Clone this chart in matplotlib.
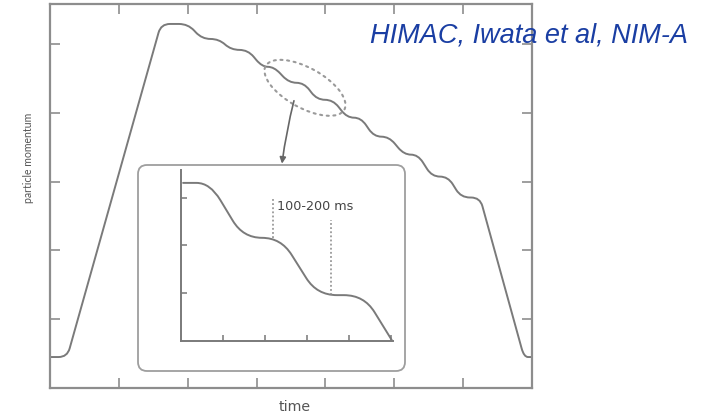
import numpy as np
import matplotlib
matplotlib.use("Agg")
import matplotlib.pyplot as plt
from matplotlib import font_manager
from matplotlib.path import Path
from matplotlib.patches import PathPatch, Ellipse, FancyBboxPatch, FancyArrowPatch
from matplotlib.transforms import ScaledTranslation

# Synchrotron cycle: corner points of the momentum profile (ramp up, staircase down, ramp down)
cycle_time = [0.0, 0.25, 1.612, 2.004, 2.207, 2.454, 2.629, 2.875, 3.079, 3.253,
              3.471, 3.689, 3.877, 4.110, 4.313, 4.516, 4.705, 4.923, 5.141, 5.344,
              5.547, 5.780, 5.969, 6.245, 6.884, 7.0]
cycle_momentum = [0.45, 0.45, 5.29, 5.29, 5.072, 5.072, 4.913, 4.913, 4.667, 4.667,
                  4.435, 4.435, 4.188, 4.188, 3.928, 3.928, 3.652, 3.652, 3.391, 3.391,
                  3.072, 3.072, 2.768, 2.768, 0.45, 0.45]
main_ticks_x = [1, 2, 3, 4, 5, 6]
main_ticks_y = [1, 2, 3, 4, 5]

# Close-up of two flat-tops
inset_time = [0.05, 0.69, 1.48, 2.38, 3.24, 4.36, 5.02]
inset_momentum = [3.31, 3.31, 2.16, 2.16, 0.96, 0.96, 0.02]
inset_ticks_x = [1, 2, 3, 4, 5]
inset_ticks_y = [1, 2, 3]
flat_marker_x = [2.19, 3.57]
flat_marker_top = [3.02, 2.54]
flat_marker_bottom = [2.16, 0.96]

ylabel_text = "particle momentum"
xlabel_text = "time"
interval_text = "100-200 ms"
source_text = "HIMAC, Iwata et al, NIM-A"

GREY_AX = "#8d8d8d"
GREY_LINE = "#7a7a7a"


def rounded_path(ax, xs, ys, radius_px):
    """Polyline through the given points with quadratic-rounded corners."""
    pts = ax.transData.transform(np.column_stack([xs, ys]))
    verts = [pts[0]]
    codes = [Path.MOVETO]
    for i in range(1, len(pts) - 1):
        p, v, n = pts[i - 1], pts[i], pts[i + 1]
        din = np.hypot(*(v - p))
        dout = np.hypot(*(n - v))
        a = v + (p - v) * min(radius_px, 0.5 * din) / din
        b = v + (n - v) * min(radius_px, 0.5 * dout) / dout
        verts += [a, v, b]
        codes += [Path.LINETO, Path.CURVE3, Path.CURVE3]
    verts.append(pts[-1])
    codes.append(Path.LINETO)
    return Path(ax.transData.inverted().transform(np.array(verts)), codes)


fig = plt.figure(figsize=(7.09, 4.15), dpi=100)

# ---- main axes ----
ax = fig.add_axes([50 / 709, 27 / 415, 482 / 709, 384 / 415])
ax.set_xlim(0, 7)
ax.set_ylim(0, 5.58)
ax.set_xticks(main_ticks_x)
ax.set_yticks(main_ticks_y)
ax.tick_params(direction="in", length=7, width=1.2, color=GREY_AX,
               top=True, right=True, labelleft=False, labelbottom=False)
for s in ax.spines.values():
    s.set_color(GREY_AX)
    s.set_linewidth(1.6)

ax.add_patch(PathPatch(rounded_path(ax, cycle_time, cycle_momentum, 9),
                       fill=False, ec=GREY_LINE, lw=1.4, capstyle="round"))

# dotted ellipse around part of the staircase
ecx, ecy = 3.703, 4.362
ell = Ellipse((0, 0), 0.90, 0.40, angle=-29, fill=False, ec="#9a9a9a", lw=1.5,
              linestyle=(0, (1, 2.2)), capstyle="round",
              transform=fig.dpi_scale_trans + ScaledTranslation(ecx, ecy, ax.transData))
ax.add_patch(ell)

arrow = FancyArrowPatch((3.543, 4.174), (3.369, 3.26), arrowstyle="-|>",
                        mutation_scale=9, color="#666666", lw=1.2,
                        connectionstyle="arc3,rad=0.03", shrinkA=0, shrinkB=0)
ax.add_patch(arrow)

# rounded frame around the close-up
box = FancyBboxPatch((1.38, 0.44), 2.67, 2.06,
                     boxstyle="round,pad=0,rounding_size=0.09",
                     transform=fig.dpi_scale_trans, fc="white", ec="#9e9e9e", lw=1.3,
                     zorder=2)
fig.add_artist(box)

# ---- inset axes ----
ins = fig.add_axes([181 / 709, 74 / 415, 212 / 709, 171 / 415])
ins.set_zorder(3)
ins.patch.set_visible(False)
ins.set_xlim(0, 5.05)
ins.set_ylim(0, 3.58)
ins.set_xticks(inset_ticks_x)
ins.set_yticks(inset_ticks_y)
ins.tick_params(direction="in", length=4, width=1.1, color="#777777",
                labelleft=False, labelbottom=False)
for side in ("top", "right"):
    ins.spines[side].set_visible(False)
for side in ("left", "bottom"):
    ins.spines[side].set_color("#7a7a7a")
    ins.spines[side].set_linewidth(1.4)

ins.add_patch(PathPatch(rounded_path(ins, inset_time, inset_momentum, 20),
                        fill=False, ec=GREY_LINE, lw=1.4, capstyle="round"))
for x, top, bot in zip(flat_marker_x, flat_marker_top, flat_marker_bottom):
    ins.plot([x, x], [bot, top], color="#888888", lw=1.1, linestyle=(0, (1.2, 1.5)))
ins.text(2.29, 2.81, interval_text, ha="left", va="center", fontsize=9.2,
         color="#444444", family="DejaVu Sans")

# ---- labels ----
names = {f.name for f in font_manager.fontManager.ttflist}
yl_family = "Lato" if "Lato" in names else "DejaVu Sans"
yl_size = 7.6 if yl_family == "Lato" else 6.6
fig.text(29 / 709, (415 - 158) / 415, ylabel_text, rotation=90, ha="center",
         va="center", fontsize=yl_size, family=yl_family, color="#555555")
fig.text(295 / 709, (415 - 407) / 415, xlabel_text, ha="center", va="center",
         fontsize=10.2, family="DejaVu Sans", color="#555555")

fig.text(370 / 709, (415 - 43) / 415, source_text, ha="left", va="baseline",
         fontsize=19.5, style="italic", family="Liberation Sans", color="#1a3ea3")

fig.savefig("out.png", dpi=100)
